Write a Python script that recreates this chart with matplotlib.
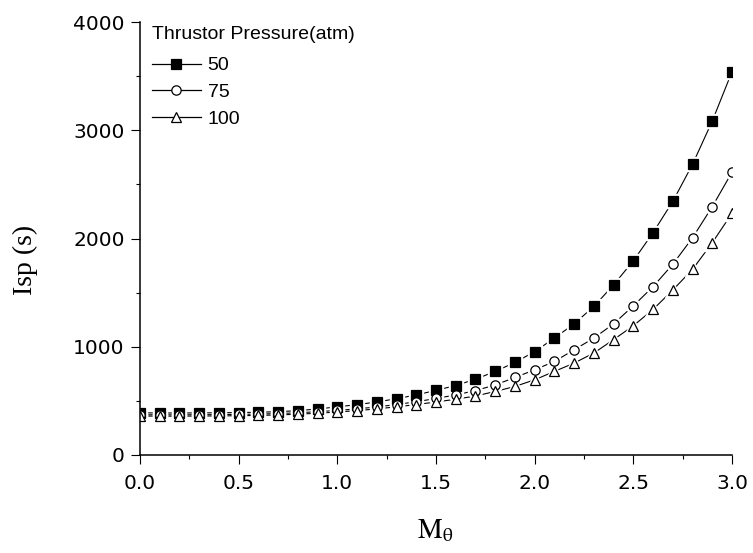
import numpy as np
import matplotlib
matplotlib.use("Agg")
import matplotlib.pyplot as plt
from matplotlib.ticker import MultipleLocator

mach = [0.0, 0.1, 0.2, 0.3, 0.4, 0.5, 0.6, 0.7, 0.8, 0.9, 1.0, 1.1, 1.2, 1.3, 1.4, 1.5,
        1.6, 1.7, 1.8, 1.9, 2.0, 2.1, 2.2, 2.3, 2.4, 2.5, 2.6, 2.7, 2.8, 2.9, 3.0]
isp_50 = [390, 388, 388, 389, 390, 392, 395, 400, 410, 425, 445, 465, 490, 520, 555, 597,
          642, 700, 772, 855, 955, 1080, 1212, 1372, 1572, 1794, 2054, 2343, 2685, 3085, 3541]
isp_75 = [372, 371, 371, 372, 373, 375, 378, 383, 390, 400, 412, 426, 444, 466, 492, 522,
          555, 595, 647, 716, 787, 864, 972, 1080, 1212, 1378, 1555, 1762, 2007, 2294, 2612]
isp_100 = [360, 359, 359, 360, 361, 363, 366, 370, 377, 386, 397, 410, 426, 445, 466, 490,
           515, 545, 587, 633, 695, 772, 849, 942, 1066, 1194, 1345, 1524, 1715, 1961, 2233]
labels = ["50", "75", "100"]
xticks = [0.0, 0.5, 1.0, 1.5, 2.0, 2.5, 3.0]
xticklabels = ["0.0", "0.5", "1.0", "1.5", "2.0", "2.5", "3.0"]
yticks = [0, 1000, 2000, 3000, 4000]
yticklabels = ["0", "1000", "2000", "3000", "4000"]

plt.rcParams["mathtext.fontset"] = "stix"

fig = plt.figure(figsize=(7.53, 5.53), dpi=100)
W, H = 753, 553
x0, x1, y0, y1 = 140, 732, 455, 22
ax = fig.add_axes([x0 / W, 1 - y0 / H, (x1 - x0) / W, (y0 - y1) / H])

sans = ["Liberation Sans", "DejaVu Sans"]
tickfont = ["DejaVu Sans"]
serif = ["Liberation Serif", "DejaVu Serif"]

styles = [
    dict(marker="s", mfc="black", mec="black", ms=6.7),
    dict(marker="o", mfc="white", mec="black", ms=6.7),
    dict(marker="^", mfc="white", mec="black", ms=7.8),
]
series = [isp_50, isp_75, isp_100]

handles = []
for ys, st, lab in zip(series, styles, labels):
    ax.plot(mach, ys, color="black", lw=0.8, zorder=2)
    # white halo to mimic the gap between line and marker
    ax.plot(mach, ys, ls="none", marker=st["marker"], ms=st["ms"] + 3.5,
            mfc="white", mec="white", zorder=3)
    ax.plot(mach, ys, ls="none", marker=st["marker"], ms=st["ms"],
            mfc=st["mfc"], mec=st["mec"], mew=0.9, zorder=4)
    h, = ax.plot([], [], color="black", lw=0.9, marker=st["marker"],
                 ms=st["ms"], mfc=st["mfc"], mec=st["mec"], mew=0.9, label=lab)
    handles.append(h)

ax.set_xlim(0, 3.0)
ax.set_ylim(0, 4000)
ax.set_xticks(xticks)
ax.set_xticklabels(xticklabels, family=tickfont, fontsize=14.5)
ax.set_yticks(yticks)
ax.set_yticklabels(yticklabels, family=tickfont, fontsize=14.5)
ax.xaxis.set_minor_locator(MultipleLocator(0.25))
ax.yaxis.set_minor_locator(MultipleLocator(500))

ax.tick_params(axis="x", which="major", direction="out", length=6.5, width=0.8, pad=7)
ax.tick_params(axis="y", which="major", direction="out", length=6.5, width=0.8, pad=4.5)
ax.tick_params(which="minor", direction="out", length=3, width=0.8)
for s in ["top", "right"]:
    ax.spines[s].set_visible(False)
for s in ["left", "bottom"]:
    ax.spines[s].set_linewidth(1.1)
    ax.spines[s].set_zorder(5)

fig.text(435 / W, 1 - 538 / H, r"$\mathrm{M}_{\mathrm{\theta}}$", fontsize=20,
         ha="center", va="baseline")
fig.text(25 / W, 1 - 260 / H, "Isp (s)", family=serif, fontsize=20,
         rotation=90, ha="center", va="center")

leg = ax.legend(handles=handles, loc="upper left",
                bbox_to_anchor=((152 - x0) / (x1 - x0), (y0 - 26) / (y0 - y1)),
                frameon=False, title="Thrustor Pressure(atm)",
                prop={"family": sans, "size": 14}, handlelength=2.5,
                handletextpad=0.36, labelspacing=0.46, borderpad=0.0,
                borderaxespad=0.0)
leg.get_title().set_fontfamily(sans)
leg.get_title().set_fontsize(14)
leg._legend_box.align = "left"
leg._legend_box.sep = 10

fig.savefig("out.png", dpi=100)
